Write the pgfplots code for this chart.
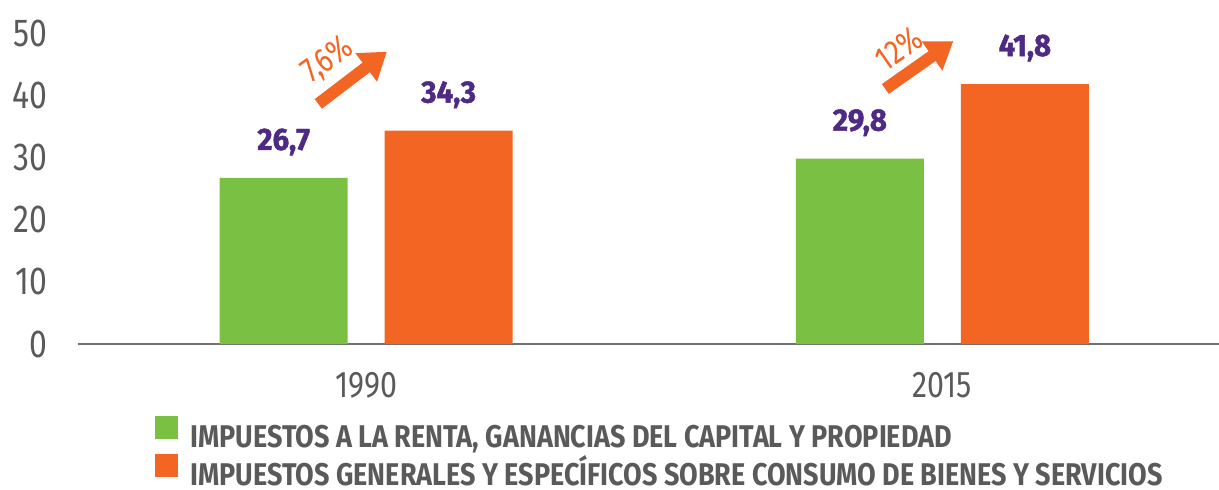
\documentclass[border=0pt]{standalone}
\usepackage{fontspec}
\setmainfont[FakeStretch=0.82]{Fira Sans}
\newfontfamily\lblfont[FakeStretch=0.95,FakeBold=1.5]{Fira Sans Bold}
\newfontfamily\legfont[FakeStretch=0.86]{Fira Sans}
\usepackage{pgfplots}
\pgfplotsset{compat=1.18}
\usetikzlibrary{arrows.meta}
\definecolor{mygreen}{HTML}{7AC143}
\definecolor{myorange}{HTML}{F26522}
\definecolor{mypurple}{HTML}{4F2A84}
\definecolor{txtgray}{HTML}{5A5A5A}
\definecolor{axgray}{HTML}{707070}
\begin{document}
\begin{tikzpicture}
\useasboundingbox (-39pt,-72.5pt) rectangle (570.5pt,172pt);
\begin{axis}[
  at={(0,0)}, anchor=south west, scale only axis,
  width=570.5pt, height=155.5pt,
  xmin=-0.5, xmax=1.48, ymin=0, ymax=50,
  axis x line=bottom, axis y line=left,
  x axis line style={-, draw=axgray, line width=0.8pt},
  y axis line style={draw=none},
  xtick={0,1}, xticklabels={1990,2015},
  ytick={0,10,20,30,40,50},
  major tick length=0pt,
  tick style={draw=none},
  /pgf/number format/assume math mode=true,
  yticklabel style={font=\fontsize{19.5}{20}\selectfont, text=txtgray, anchor=east, inner sep=0pt, xshift=-15pt},
  xticklabel style={font=\fontsize{18.5}{19}\selectfont, text=txtgray, anchor=north, inner sep=0pt, yshift=-14pt},
  ybar, bar width=64pt,
  clip=false,
  point meta=explicit symbolic,
  nodes near coords,
  every node near coord/.append style={font=\lblfont\fontsize{15.5}{16}\selectfont, text=mypurple, anchor=base, inner sep=0pt, yshift=14pt},
  legend style={at={(0.0675,-0.229)}, anchor=north west, draw=none, fill=none, inner sep=0pt,
    font=\legfont\bfseries\fontsize{15.7}{16}\selectfont, text=txtgray,
    nodes={inner sep=0pt, text height=10pt, text depth=0pt},
    row sep=3pt,
    /tikz/every odd column/.append style={column sep=6pt}},
  legend cell align=left,
  legend image code/.code={\fill[#1,draw=none] (0pt,-0.5pt) rectangle (11.5pt,11pt);},
]
\addplot[fill=mygreen, draw=none, bar shift=-41.25pt] coordinates {(0,26.7) [26,7] (1,29.8) [29,8]};
\addlegendentry{IMPUESTOS A LA RENTA, GANANCIAS DEL CAPITAL Y PROPIEDAD}
\addplot[fill=myorange, draw=none, bar shift=41.25pt] coordinates {(0,34.3) [34,3] (1,41.8) [41,8]};
\addlegendentry{IMPUESTOS GENERALES Y ESPECÍFICOS SOBRE CONSUMO DE BIENES Y SERVICIOS}
\draw[myorange, line width=6pt, -{Triangle[length=13pt,width=17pt]}] (axis cs:-0.083,38.6) -- (axis cs:0.036,47.0);
\node[text=myorange, rotate=36, font=\fontsize{17}{18}\selectfont, inner sep=0pt] at (axis cs:-0.066,45.6) {7,6\%};
\draw[myorange, line width=6pt, -{Triangle[length=13pt,width=17pt]}] (axis cs:0.901,41.0) -- (axis cs:1.019,48.7);
\node[text=myorange, rotate=35, font=\fontsize{17}{18}\selectfont, inner sep=0pt] at (axis cs:0.925,47.5) {12\%};
\end{axis}
\end{tikzpicture}
\end{document}
